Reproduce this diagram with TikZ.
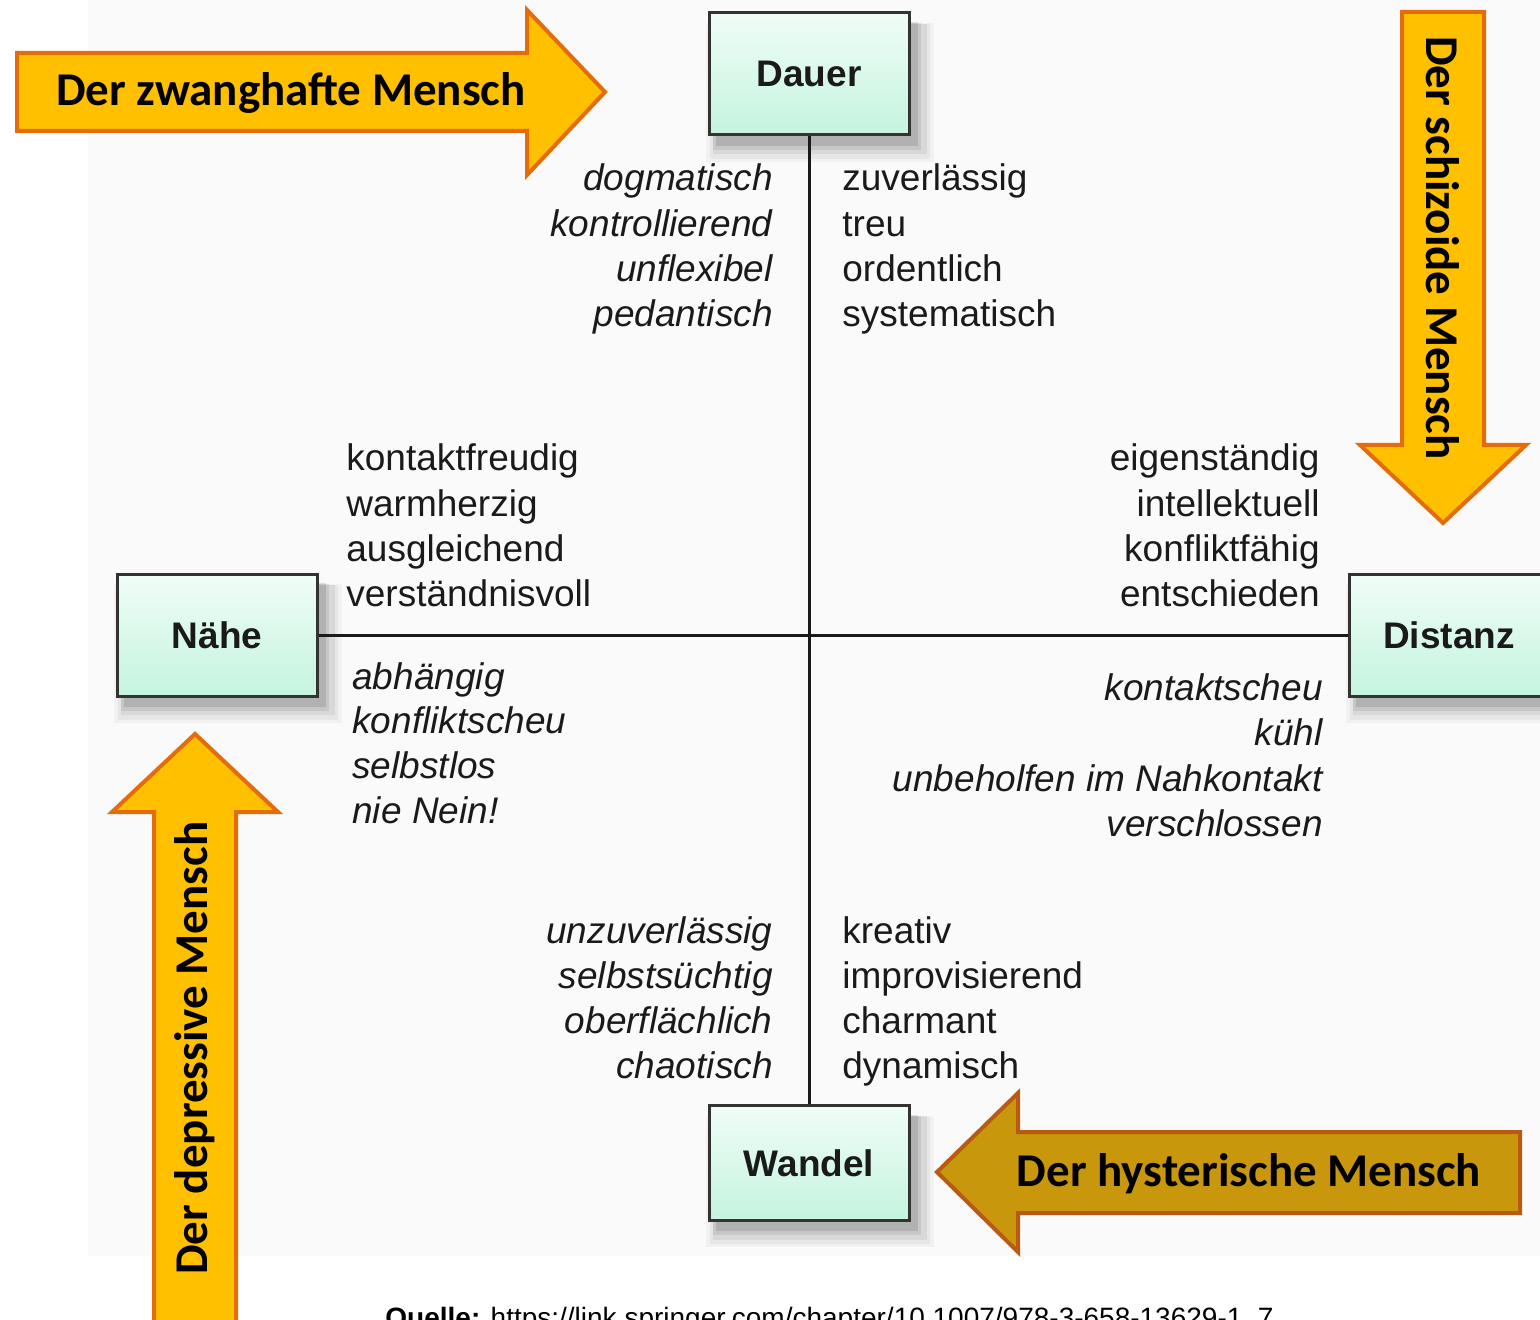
\documentclass[tikz,border=0pt]{standalone}
\usepackage{fontspec}
\setmainfont{Liberation Sans}
\newfontfamily\calib{Carlito}
\usetikzlibrary{shadows}
\definecolor{arrfill}{HTML}{FFC000}
\definecolor{arrline}{HTML}{E46C0A}
\definecolor{hysfill}{HTML}{C9970B}
\definecolor{hysline}{HTML}{B95A14}
\definecolor{boxtop}{HTML}{F0FDF7}
\definecolor{boxbot}{HTML}{C4F4DE}
\definecolor{ink}{HTML}{1A1A1A}
\definecolor{bgray}{HTML}{FAFAFA}
\tikzset{
  softshadow/.style={
    drop shadow={shadow xshift=5pt, shadow yshift=-8pt, shadow scale=1.14, opacity=0.035, fill=black},
    drop shadow={shadow xshift=5pt, shadow yshift=-8pt, shadow scale=1.10, opacity=0.045, fill=black},
    drop shadow={shadow xshift=5pt, shadow yshift=-7pt, shadow scale=1.07, opacity=0.06, fill=black},
    drop shadow={shadow xshift=4pt, shadow yshift=-6pt, shadow scale=1.04, opacity=0.08, fill=black},
    drop shadow={shadow xshift=4pt, shadow yshift=-5pt, shadow scale=1.01, opacity=0.11, fill=black}},
  polebox/.style={draw=black!80, line width=1.5pt, top color=boxtop, bottom color=boxbot,
    minimum width=100pt, minimum height=61pt, inner sep=0pt,
    font=\fontsize{18.5}{22}\selectfont\bfseries, text=ink, softshadow},
  axis/.style={draw=ink, line width=1.5pt},
  wordr/.style={font=\fontsize{18.5}{22}\selectfont, text=ink, inner sep=0pt},
  wordi/.style={font=\fontsize{18.5}{22}\selectfont\itshape, text=ink, inner sep=0pt},
  bigarrow/.style={fill=arrfill, draw=arrline, line width=2pt, line join=miter},
  arrtext/.style={font=\fontsize{23.5}{28}\selectfont\calib\bfseries, text=black, inner sep=0pt}
}
\begin{document}
\begin{tikzpicture}[x=0.5pt,y=-0.5pt]
\useasboundingbox (0,0) rectangle (1540,1320);
\fill[bgray] (88,0) rectangle (1540,1256);

% pole boxes
\node[polebox] (dauer) at (809,74) {Dauer};
\node[polebox] (naehe) at (217,635) {Nähe};
\node[polebox] (distanz) at (1449,635) {Distanz};
\node[polebox, minimum height=57.5pt] (wandel) at (809,1163) {Wandel};

% axes
\draw[axis] (dauer) -- (wandel);
\draw[axis] (naehe) -- (distanz);

% word lists
\foreach \w [count=\i] in {dogmatisch,kontrollierend,unflexibel,pedantisch}
  \node[wordi, anchor=base east] (tl\i) at (773,{191+45.3*(\i-1)}) {\w};
\foreach \w [count=\i] in {zuverlässig,treu,ordentlich,systematisch}
  \node[wordr, anchor=base west] (tr\i) at (842,{191+45.3*(\i-1)}) {\w};
\foreach \w [count=\i] in {kontaktfreudig,warmherzig,ausgleichend,verständnisvoll}
  \node[wordr, anchor=base west] (ml\i) at (346,{471+45.3*(\i-1)}) {\w};
\foreach \w [count=\i] in {eigenständig,intellektuell,konfliktfähig,entschieden}
  \node[wordr, anchor=base east] (mr\i) at (1320,{471+45.3*(\i-1)}) {\w};
\foreach \w [count=\i] in {abhängig,konfliktscheu,selbstlos,nie Nein!}
  \node[wordi, anchor=base west] (ll\i) at (352,{689+44.7*(\i-1)}) {\w};
\foreach \w [count=\i] in {kontaktscheu,kühl,unbeholfen im Nahkontakt,verschlossen}
  \node[wordi, anchor=base east] (lr\i) at (1323,{700+45.5*(\i-1)}) {\w};
\foreach \w [count=\i] in {unzuverlässig,selbstsüchtig,oberflächlich,chaotisch}
  \node[wordi, anchor=base east] (bl\i) at (773,{943+45.3*(\i-1)}) {\w};
\foreach \w [count=\i] in {kreativ,improvisierend,charmant,dynamisch}
  \node[wordr, anchor=base west] (br\i) at (842,{943+45.3*(\i-1)}) {\w};

% big arrows
\draw[bigarrow] (17,53) -- (527,53) -- (527,10) -- (605,92) -- (527,175) -- (527,131) -- (17,131) -- cycle;
\node[arrtext] (zwang) at (291,93) {Der zwanghafte Mensch};

\draw[bigarrow] (1402,12) -- (1484,12) -- (1484,445) -- (1526,445) -- (1443,523) -- (1360,445) -- (1402,445) -- cycle;
\node[arrtext, rotate=-90] (schizo) at (1443,248) {Der schizoide Mensch};

\draw[bigarrow] (195,734) -- (278,812) -- (236,812) -- (236,1340) -- (154,1340) -- (154,812) -- (112,812) -- cycle;
\node[arrtext, rotate=90] (depress) at (195,1048) {Der depressive Mensch};

\draw[bigarrow, fill=hysfill, draw=hysline] (937,1172) -- (1018,1093) -- (1018,1132) -- (1520,1132) -- (1520,1213) -- (1018,1213) -- (1018,1252) -- cycle;
\node[arrtext] (hyster) at (1249,1174) {Der hysterische Mensch};

% source line (cut off by the page edge, as in the reference)
\node[anchor=base west, inner sep=0pt, font=\fontsize{14}{16}\selectfont, text=black] (quelle) at (385,1327)
  {\textbf{Quelle:} https://link.springer.com/chapter/10.1007/978-3-658-13629-1\_7};
\end{tikzpicture}
\end{document}
